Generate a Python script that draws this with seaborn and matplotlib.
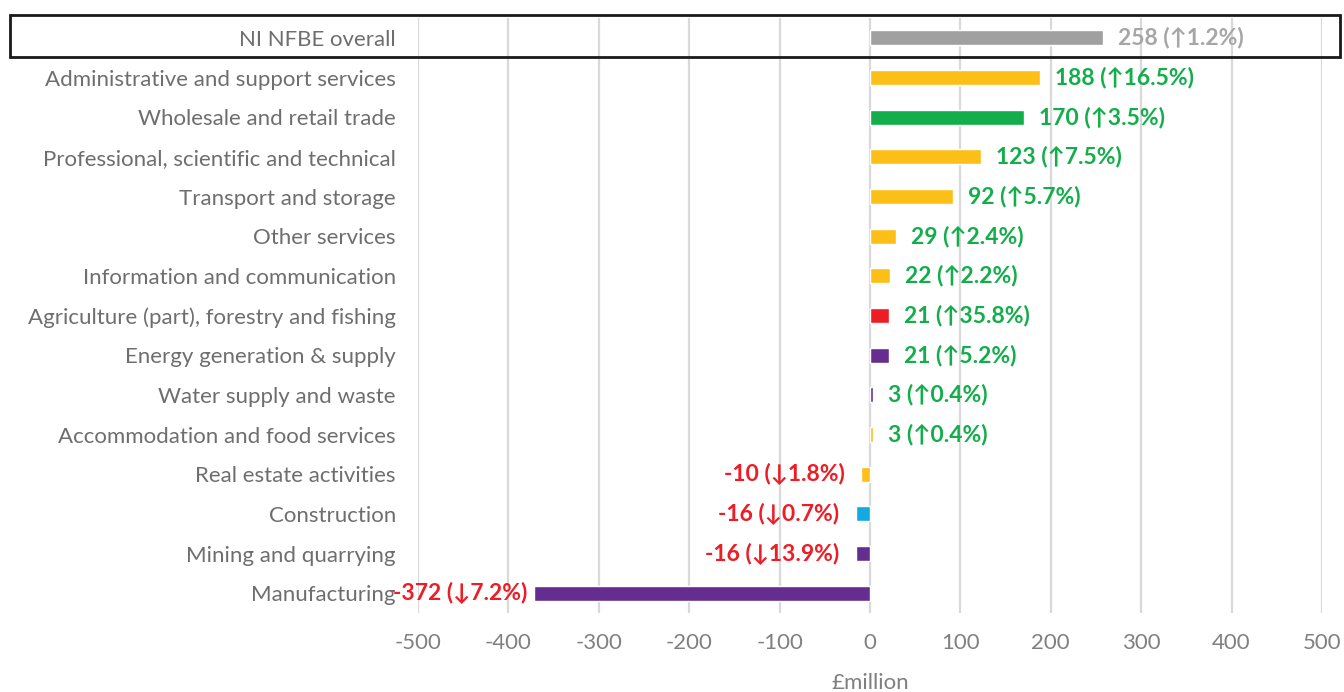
import matplotlib
matplotlib.use("Agg")
import matplotlib.pyplot as plt
import matplotlib.patches as mpatches
import seaborn as sns
import pandas as pd

categories = [
    "NI NFBE overall",
    "Administrative and support services",
    "Wholesale and retail trade",
    "Professional, scientific and technical",
    "Transport and storage",
    "Other services",
    "Information and communication",
    "Agriculture (part), forestry and fishing",
    "Energy generation & supply",
    "Water supply and waste",
    "Accommodation and food services",
    "Real estate activities",
    "Construction",
    "Mining and quarrying",
    "Manufacturing",
]
values = [258, 188, 170, 123, 92, 29, 22, 21, 21, 3, 3, -10, -16, -16, -372]
pct_change = [1.2, 16.5, 3.5, 7.5, 5.7, 2.4, 2.2, 35.8, 5.2, 0.4, 0.4, -1.8, -0.7, -13.9, -7.2]
bar_colors = [
    "#A0A0A0", "#FBBF17", "#13AE4B", "#FBBF17", "#FBBF17", "#FBBF17", "#FBBF17",
    "#EE1C25", "#662D91", "#662D91", "#FBBF17", "#FBBF17", "#14A9E1", "#662D91", "#662D91",
]
x_ticks = [-500, -400, -300, -200, -100, 0, 100, 200, 300, 400, 500]

df = pd.DataFrame({"category": categories, "value": values})

sns.set_theme(style="white")
plt.rcParams["font.family"] = ["Lato", "DejaVu Sans"]

fig = plt.figure(figsize=(13.44, 6.92), dpi=100)
ax = fig.add_axes([0.311, 0.114, 0.6726, 0.860])

sns.barplot(
    data=df, x="value", y="category", hue="category",
    palette=dict(zip(categories, bar_colors)), order=categories,
    legend=False, width=0.38, orient="h", ax=ax, saturation=1,
)

ax.set_xlim(-500, 500)
ax.set_ylim(len(categories) - 0.5, -0.5)
ax.set_xticks(x_ticks)
ax.set_xticklabels([str(t) for t in x_ticks])
ax.xaxis.grid(True, color="#D9D9D9", linewidth=1.6)
ax.set_axisbelow(True)
for s in ax.spines.values():
    s.set_visible(False)

ax.tick_params(axis="x", colors="#808080", labelsize=16, length=0, pad=14)
ax.tick_params(axis="y", colors="#6E6E6E", labelsize=16, length=0, pad=16)
for t in ax.get_yticklabels():
    t.set_color("#6E6E6E")
ax.set_ylabel("")
ax.set_xlabel("£million", color="#7F7F7F", fontsize=16, labelpad=15)

# value labels with percentage change
for i, (v, p) in enumerate(zip(values, pct_change)):
    arrow = "↑" if p >= 0 else "↓"
    txt = f"{v} ({arrow}{abs(p):.1f}%)"
    if i == 0:
        col = "#A6A6A6"
    elif v >= 0:
        col = "#13AE4B"
    else:
        col = "#EE1C25"
    off = 15 if v >= 0 else (-16 if v > -300 else -6)
    ax.annotate(
        txt, xy=(v, i), xytext=(off, 0), textcoords="offset pixels",
        ha="left" if v >= 0 else "right", va="center",
        fontsize=16.5, fontweight="bold", color=col,
        family=["Lato", "DejaVu Sans"],
    )

# frame around the overall row
rect = mpatches.Rectangle(
    (10 / 1344, 1 - 57 / 692), 1330 / 1344, 42 / 692,
    transform=fig.transFigure, fill=False, edgecolor="#1A1A1A", linewidth=2,
)
fig.patches.append(rect)

fig.savefig("out.png", dpi=100)
